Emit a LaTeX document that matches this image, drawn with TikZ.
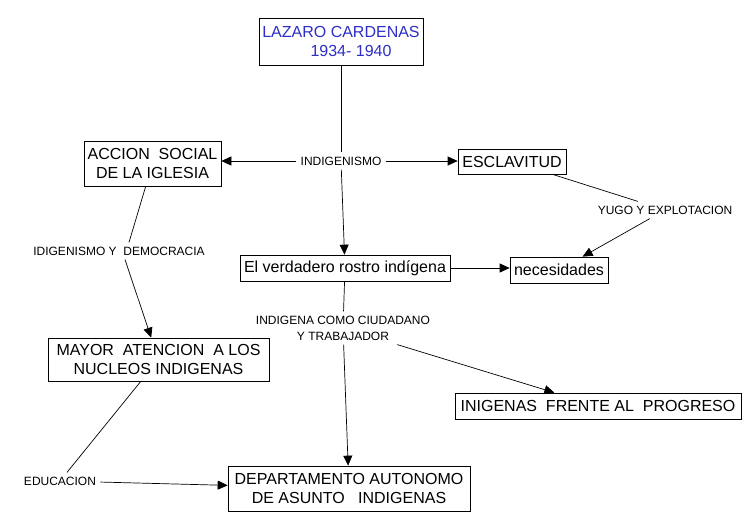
\documentclass[tikz,border=0pt]{standalone}
\usepackage{fontspec}
\setmainfont{Liberation Sans}
\usetikzlibrary{arrows.meta}
\definecolor{lzblue}{RGB}{45,45,200}

\begin{document}
\begin{tikzpicture}[x=1pt,y=-1pt,line width=0.7pt,
  concept/.style={draw,align=center,inner sep=2pt,
    font=\fontsize{16}{19.5}\selectfont},
  link/.style={align=center,inner sep=4pt,
    font=\fontsize{12}{16}\selectfont},
  arr/.style={-{Triangle[length=10pt,width=9pt]}}]
  \useasboundingbox (0,0) rectangle (755,531);

  \node[concept,minimum width=164,minimum height=47,text=lzblue] (lazaro) at (341,41.5)
    {LAZARO CARDENAS\\\hspace*{20pt}1934- 1940};
  \node[concept,minimum width=137,minimum height=45] (accion) at (152.5,163.5)
    {ACCION\ \ SOCIAL\\DE LA IGLESIA};
  \node[concept,minimum width=108,minimum height=25] (esclavitud) at (512,161.5) {ESCLAVITUD};
  \node[concept,minimum width=210,minimum height=26] (rostro) at (345,268)
    {El verdadero rostro indígena};
  \node[concept,minimum width=98,minimum height=26] (necesidades) at (559,270) {necesidades};
  \node[concept,minimum width=221,minimum height=43] (mayor) at (158.5,359.5)
    {MAYOR\ \ ATENCION\ \ A LOS\\NUCLEOS INDIGENAS};
  \node[concept,minimum width=286,minimum height=26] (progreso) at (598,406)
    {INIGENAS\ \ FRENTE AL\ \ PROGRESO};
  \node[concept,minimum width=242,minimum height=45] (depto) at (349,488.5)
    {DEPARTAMENTO AUTONOMO\\DE ASUNTO\ \ \ INDIGENAS};

  \node[link] (indigenismo) at (341,161) {INDIGENISMO};
  \node[link] (yugo) at (665,210) {YUGO Y EXPLOTACION};
  \node[link] (democracia) at (119,251) {IDIGENISMO Y\ \ DEMOCRACIA};
  \node[link] (ciudadano) at (343,328) {INDIGENA COMO CIUDADANO\\Y TRABAJADOR};
  \node[link] (educacion) at (60,481) {EDUCACION};

  \draw (lazaro.south -| indigenismo) -- (indigenismo);
  \draw[arr] (indigenismo) -- (rostro);
  \draw[arr] (indigenismo.west) -- (indigenismo.west -| accion.east);
  \draw[arr] (indigenismo.east) -- (indigenismo.east -| esclavitud.west);
  \draw (esclavitud) -- (yugo);
  \draw[arr] (yugo) -- (necesidades);
  \draw[arr] (rostro.east) -- (rostro.east -| necesidades.west);
  \draw (rostro) -- (ciudadano);
  \draw[arr] (ciudadano) -- (depto);
  \draw[arr] (ciudadano) -- (progreso);
  \draw (accion) -- ([xshift=10pt]democracia.north);
  \draw[arr] ([xshift=6pt]democracia.south) -- (mayor);
  \draw (mayor) -- (educacion);
  \draw[arr] (educacion) -- (depto);
\end{tikzpicture}
\end{document}
